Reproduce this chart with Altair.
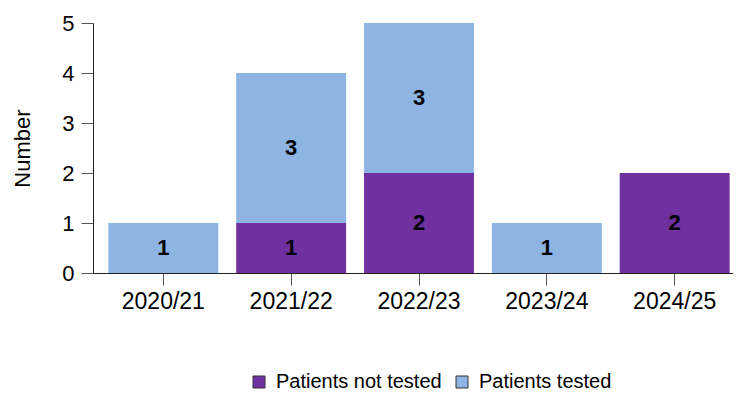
import altair as alt
import pandas as pd

years = ["2020/21", "2021/22", "2022/23", "2023/24", "2024/25"]
not_tested = [0, 1, 2, 0, 2]
tested = [1, 3, 3, 1, 0]
series = ["Patients not tested", "Patients tested"]
colors = ["#7030A0", "#8EB4E3"]

rows = []
for i, y in enumerate(years):
    rows.append({"year": y, "series": series[0], "value": not_tested[i], "ord": 0})
    rows.append({"year": y, "series": series[1], "value": tested[i], "ord": 1})
df = pd.DataFrame(rows)

FONT = "Liberation Sans"
FS = 22

base = alt.Chart(df).transform_stack(
    stack="value", groupby=["year"], as_=["y0", "y1"],
    sort=[alt.SortField("ord", order="ascending")]
).transform_calculate(mid="(datum.y0 + datum.y1) / 2")

xscale = alt.Scale(paddingInner=0.14, paddingOuter=0.12, range=[0, 652])

x = alt.X("year:N", sort=years, title=None, scale=xscale,
          axis=alt.Axis(labelAngle=0, labelFontSize=23, labelColor="#000",
                        tickSize=12, labelPadding=5, domainColor="#222",
                        tickColor="#555", labelFont=FONT))

bars = base.mark_bar().encode(
    x=x,
    y=alt.Y("y0:Q", title="Number",
            scale=alt.Scale(domain=[0, 5], nice=False),
            axis=alt.Axis(values=[0, 1, 2, 3, 4, 5], grid=False, labelFontSize=FS,
                          labelColor="#000", titleFontSize=FS, titleFontWeight="normal",
                          titleColor="#000", tickSize=12, labelPadding=7, titlePadding=27,
                          domainColor="#222", tickColor="#555", labelFont=FONT,
                          titleFont=FONT)),
    y2="y1:Q",
    color=alt.Color("series:N", scale=alt.Scale(domain=series, range=colors),
                    legend=alt.Legend(title=None, orient="none", legendX=156, legendY=349,
                                      direction="horizontal", symbolType="square",
                                      symbolSize=144, symbolStrokeColor="#333",
                                      symbolStrokeWidth=1, symbolOpacity=1,
                                      labelFontSize=20, labelFont=FONT, labelColor="#000",
                                      labelOffset=7, columnPadding=10, labelLimit=400)),
)

text = base.transform_filter("datum.value > 0").mark_text(
    fontSize=FS, fontWeight="bold", color="#000", font=FONT, baseline="middle"
).encode(x=alt.X("year:N", sort=years, scale=xscale), y="mid:Q", text="value:Q")

chart = (bars + text).properties(
    width=640, height=250,
    autosize="none",
    padding={"left": 85, "top": 15, "right": 0, "bottom": 119},
).configure_view(stroke=None)

chart.save("out.html", embed_options={"renderer": "svg", "actions": False})
